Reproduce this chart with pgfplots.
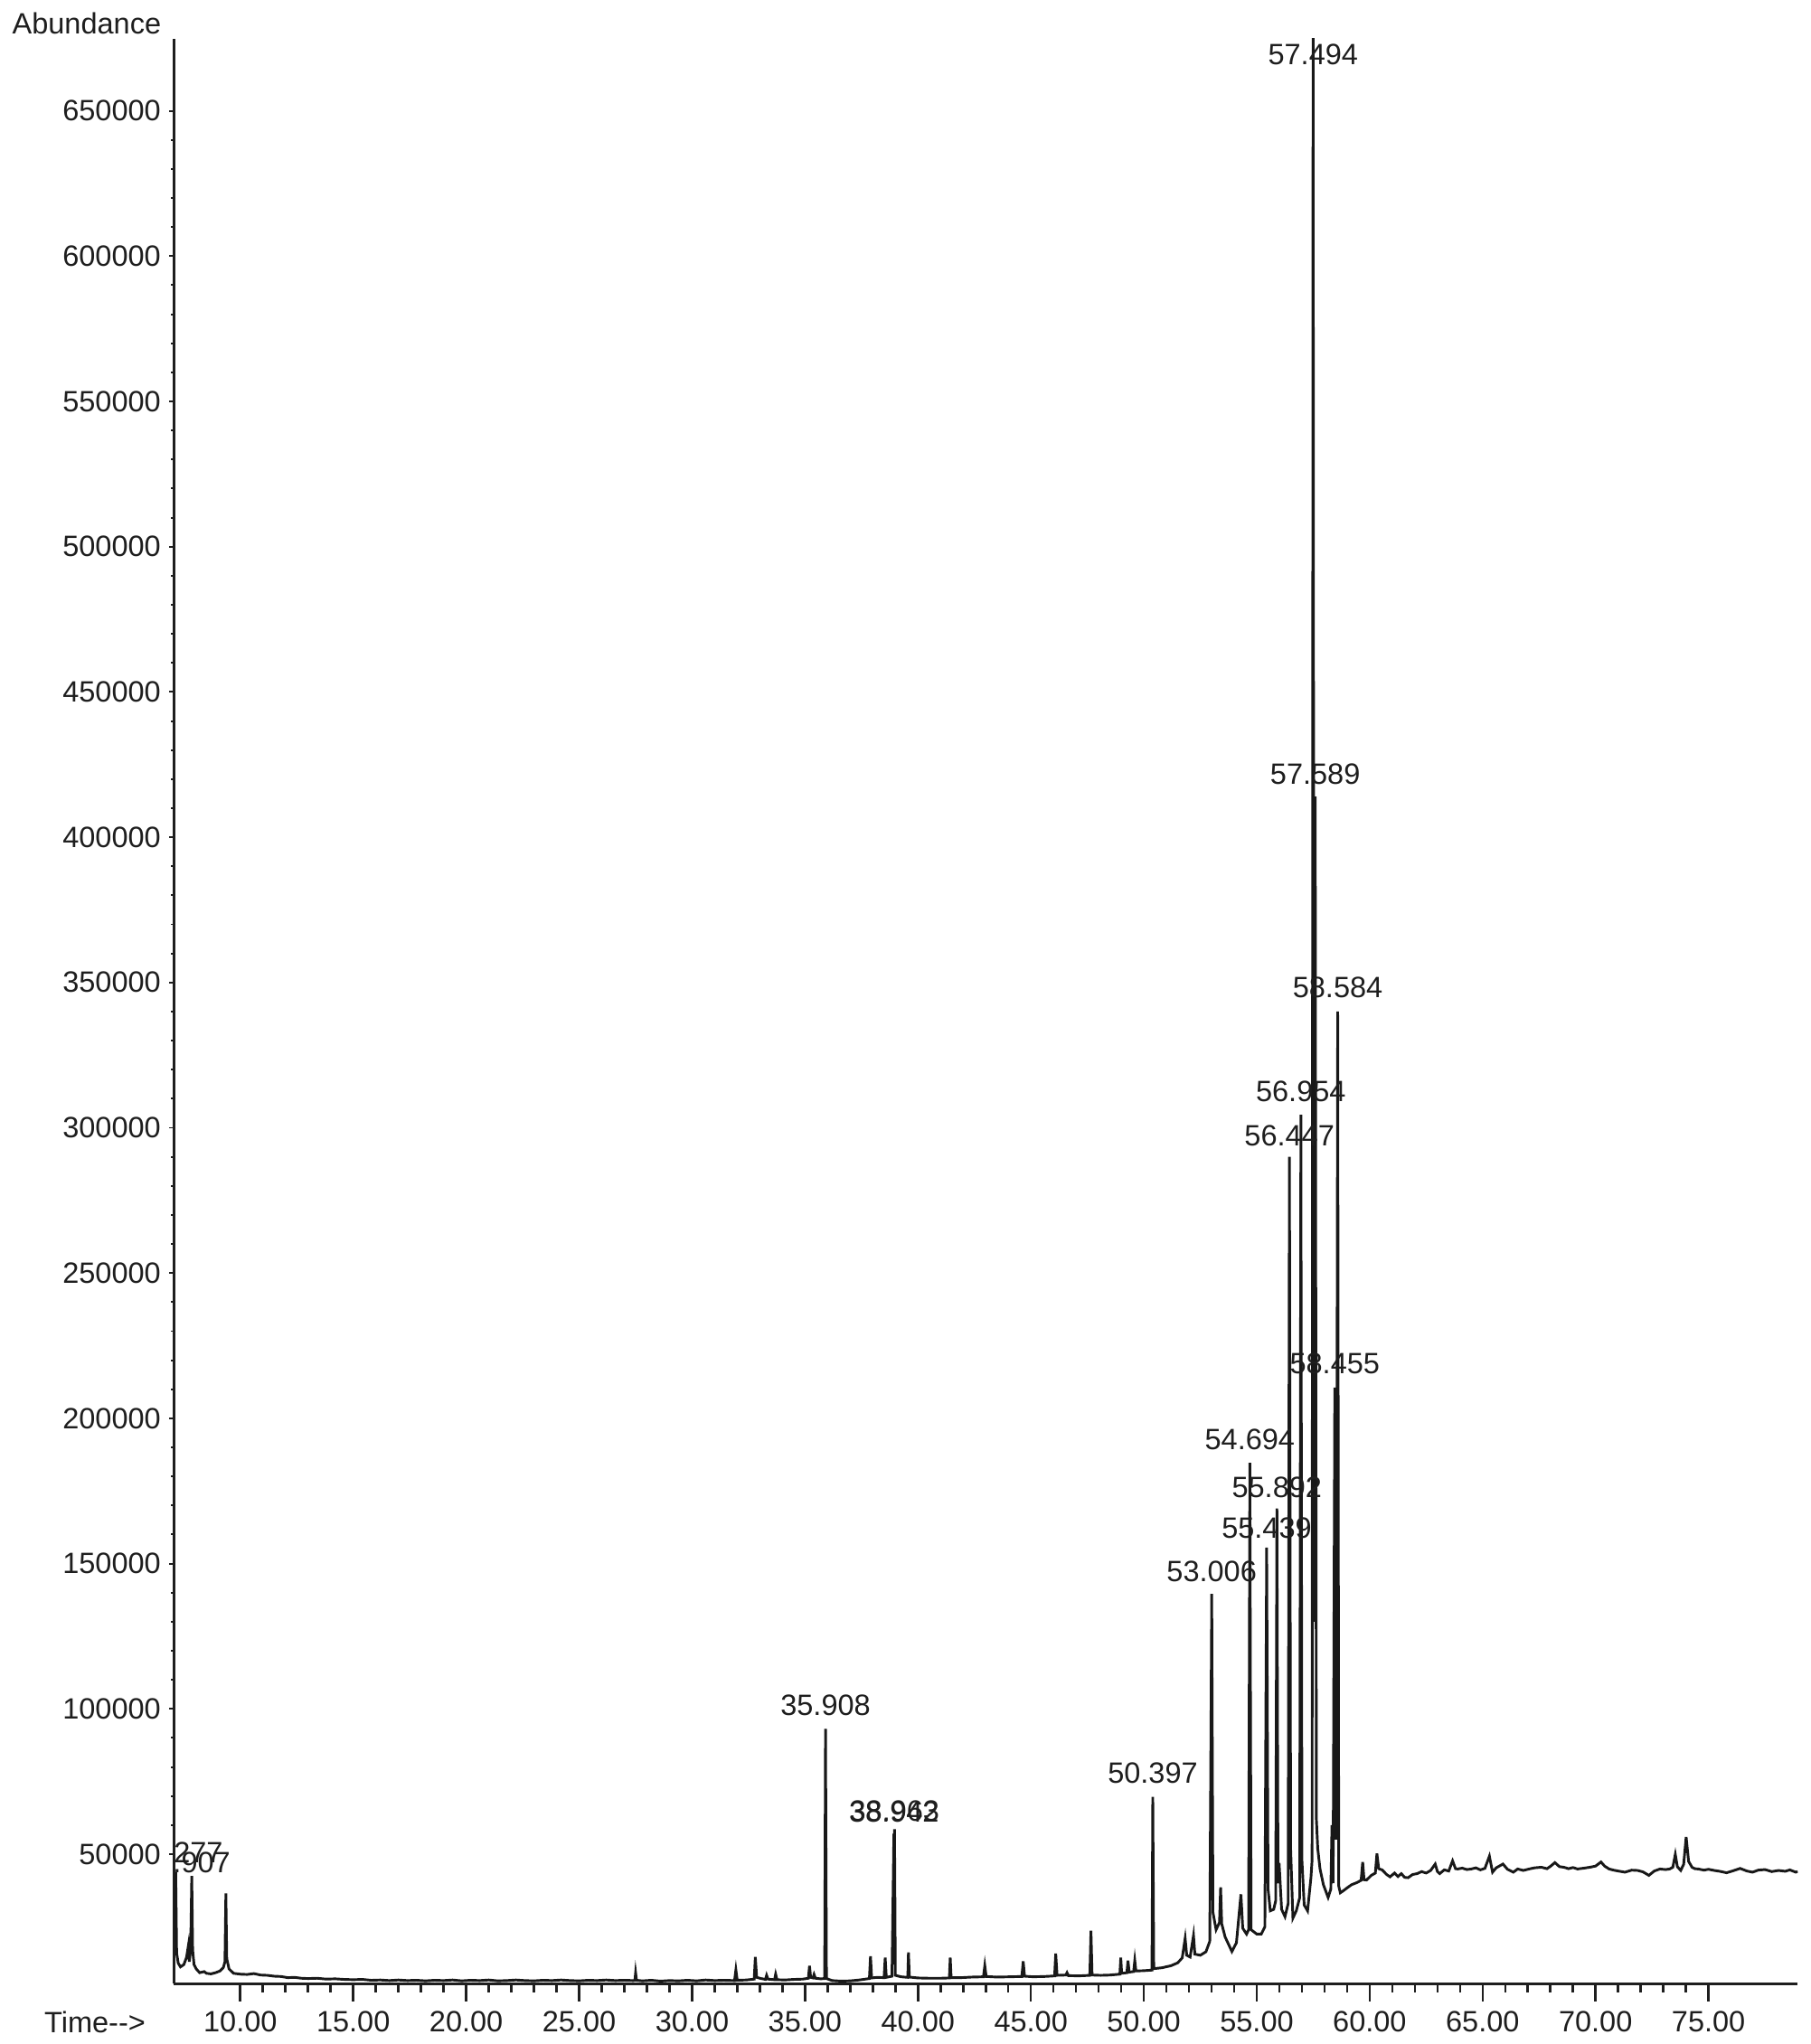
\documentclass[border=0pt]{standalone}
\usepackage{fontspec}
\setmainfont{Liberation Sans}
\usepackage{pgfplots}
\pgfplotsset{compat=1.18}
\definecolor{trace}{RGB}{24,24,24}
\definecolor{ink}{RGB}{30,30,30}

\pgfplotstableread{
t A
7.05 24000
7.10 33000
7.14 43800
7.18 16000
7.25 12500
7.35 11200
7.50 12000
7.62 14500
7.70 18500
7.74 13000
7.80 17000
7.85 42500
7.89 17000
7.95 12000
8.05 10500
8.20 9200
8.40 9600
8.50 9000
8.70 8800
8.90 9200
9.10 9800
9.25 11000
9.32 13000
9.36 36500
9.40 14000
9.50 10500
9.70 9000
10.0 8700
10.3 8600
10.6 8900
10.9 8400
11.2 8300
11.5 8000
11.8 7900
12.1 7500
12.4 7600
12.7 7300
13.0 7200
13.4 7300
13.8 7000
14.2 7100
14.6 6900
15.0 6800
15.4 6900
15.8 6600
16.2 6700
16.6 6500
17.0 6700
17.4 6500
17.8 6600
18.2 6400
18.6 6600
19.0 6500
19.4 6700
19.8 6400
20.2 6600
20.6 6500
21.0 6700
21.4 6400
21.8 6500
22.2 6700
22.6 6500
23.0 6400
23.4 6600
23.8 6500
24.2 6700
24.6 6500
25.0 6400
25.4 6600
25.8 6500
26.2 6700
26.6 6500
27.0 6600
27.4 6500
27.47 6600
27.50 9200
27.54 6600
27.8 6400
28.2 6600
28.6 6300
29.0 6500
29.4 6400
29.8 6600
30.2 6400
30.6 6700
31.0 6500
31.4 6600
31.88 6500
31.94 10200
32.00 6600
32.4 6700
32.75 7000
32.80 14600
32.86 7600
33.05 7200
33.25 6900
33.30 8300
33.36 7000
33.65 6800
33.70 8700
33.76 6800
34.1 6700
34.5 6900
34.9 7000
35.15 7300
35.20 11600
35.25 7600
35.35 7400
35.40 8600
35.46 7300
35.7 7100
35.87 7200
35.908 93100
35.95 7200
36.2 6500
36.6 6300
37.0 6400
37.4 6700
37.85 7200
37.90 14900
37.95 7400
38.2 7600
38.5 7500
38.55 14400
38.60 7600
38.85 8000
38.935 57000
38.95 12000
38.963 58600
39.00 8300
39.25 7800
39.55 7600
39.58 16200
39.62 7700
40.0 7400
40.5 7300
41.0 7300
41.39 7400
41.43 14400
41.47 7500
41.9 7500
42.4 7700
42.9 7800
42.96 11600
43.02 7900
43.5 7700
44.1 7800
44.6 7900
44.66 13100
44.72 8000
45.1 7800
45.6 7900
46.05 8100
46.10 15800
46.16 8300
46.55 8400
46.60 9200
46.66 8200
47.1 8100
47.61 8300
47.66 23700
47.71 8400
48.1 8300
48.5 8400
48.94 8700
48.98 14400
49.02 9000
49.25 9200
49.30 13400
49.35 9400
49.55 9600
49.60 13400
49.65 9800
50.0 9900
50.36 10100
50.397 69700
50.44 10600
50.8 10900
51.2 11600
51.5 12600
51.7 14300
51.83 21000
51.9 15200
52.05 14600
52.20 22000
52.26 15600
52.5 15200
52.75 16400
52.92 20000
53.006 139600
53.06 30000
53.2 24000
53.35 26500
53.40 38600
53.45 26000
53.6 21500
53.9 16500
54.1 19500
54.30 36200
54.38 24500
54.55 22500
54.64 24000
54.694 184700
54.75 24000
55.0 22500
55.2 22500
55.36 25000
55.439 155500
55.50 38000
55.60 30500
55.75 31000
55.84 34000
55.892 169000
55.94 40000
55.99 47000
56.10 31000
56.25 28500
56.39 33000
56.447 290000
56.50 52000
56.60 28000
56.75 30500
56.90 35000
56.954 304500
57.00 48000
57.10 32500
57.25 30500
57.40 42000
57.45 48000
57.494 690000
57.54 130000
57.589 414000
57.64 62000
57.70 52000
57.80 45000
57.95 39500
58.16 35100
58.28 38000
58.33 60000
58.38 40000
58.455 210600
58.52 55000
58.584 340000
58.63 39000
58.70 36700
58.85 37500
59.00 38400
59.20 39500
59.43 40200
59.62 41000
59.69 47300
59.75 41200
59.86 41100
60.07 42700
60.25 43500
60.32 50200
60.40 45000
60.55 44600
60.75 43000
60.9 42200
61.1 43500
61.25 42300
61.4 43300
61.55 42000
61.7 41900
61.9 43000
62.1 43300
62.3 44000
62.5 43500
62.7 44400
62.9 46600
63.0 44000
63.1 43300
63.3 44600
63.5 44200
63.67 47700
63.8 45000
63.9 44900
64.1 45200
64.3 44700
64.5 44900
64.7 45300
64.9 44600
65.1 45100
65.3 49300
65.44 43800
65.6 45300
65.9 46600
66.1 44800
66.36 43800
66.55 44900
66.8 44400
67.06 44900
67.3 45300
67.6 45500
67.85 45000
68.0 45800
68.2 47100
68.4 45700
68.6 45500
68.8 45000
69.0 45400
69.2 44900
69.5 45200
69.75 45500
70.0 45900
70.24 47300
70.4 45900
70.6 44900
70.8 44500
71.0 44200
71.3 43800
71.6 44500
71.86 44400
72.1 43900
72.36 42700
72.6 44200
72.85 44900
73.1 44700
73.28 44900
73.42 45500
73.53 49900
73.62 45700
73.77 44400
73.9 46500
74.01 55900
74.12 47500
74.27 45500
74.4 45000
74.55 44900
74.8 44500
75.0 44800
75.25 44400
75.5 44100
75.8 43600
76.1 44300
76.4 45100
76.7 44200
76.95 43800
77.2 44500
77.5 44700
77.8 44000
78.1 44400
78.4 44100
78.6 44600
78.86 43800
78.95 44000
}\tic

% peak labels: retention time, y of label centre, text
\pgfplotstableread{
t A lab
57.494 669300 57.494
57.589 421600 57.589
58.584 348400 58.584
56.954 312600 56.954
56.447 297300 56.447
58.455 218700 58.455
54.694 192700 54.694
55.892 176100 55.892
55.439 162200 55.439
53.006 147400 53.006
50.397 77800 50.397
35.908 101200 35.908
38.942 64400 38.942
38.963 64700 38.963
}\peaks

\begin{document}
\begin{tikzpicture}
\path[use as bounding box] (-59.1pt,-20.6pt) rectangle (556.9pt,675pt);
\begin{axis}[
  name=ax, at={(0,0)}, anchor=south west,
  scale only axis, width=552.6pt, height=661.8pt,
  xmin=7.05, xmax=78.95, ymin=5500, ymax=674800,
  axis lines=left,
  axis line style={-, ink, line width=0.9pt},
  xtick={10,15,...,75},
  xticklabels={10.00,15.00,20.00,25.00,30.00,35.00,40.00,45.00,50.00,55.00,60.00,65.00,70.00,75.00},
  minor x tick num=4,
  ytick={50000,100000,150000,200000,250000,300000,350000,400000,450000,500000,550000,600000,650000},
  yticklabels={50000,100000,150000,200000,250000,300000,350000,400000,450000,500000,550000,600000,650000},
  minor y tick num=4,
  tick align=outside,
  x tick style={/pgfplots/major tick length=6pt, /pgfplots/minor tick length=3pt, ink, line width=0.8pt},
  y tick style={/pgfplots/major tick length=1.5pt, /pgfplots/minor tick length=0.8pt, ink, line width=0.6pt},
  scaled y ticks=false,
  tick label style={font=\fontsize{10}{12}\selectfont, text=ink},
  x tick label style={anchor=base, yshift=-12.1pt},
  y tick label style={anchor=east, xshift=3.4pt},
  clip=true,
]
\addplot[trace, line width=0.9pt, mark=none] table[x=t, y=A] {\tic};
\addplot[only marks, mark=none, nodes near coords={\pgfplotspointmeta}, point meta=explicit symbolic,
  every node near coord/.style={anchor=center, font=\fontsize{10}{12}\selectfont, text=ink}]
  table[x=t, y=A, meta=lab] {\peaks};
\coordinate (la) at (axis cs:7.60,50500);
\coordinate (lb) at (axis cs:7.93,47000);
\end{axis}
\begin{scope}
  \clip (ax.south west) rectangle (ax.north east);
  \node[font=\fontsize{10}{12}\selectfont, text=ink] at (la) {7.277};
  \node[font=\fontsize{10}{12}\selectfont, text=ink] at (lb) {7.907};
\end{scope}
\node[font=\fontsize{10}{12}\selectfont, text=ink] at (-29.6pt,667pt) {Abundance};
\node[font=\fontsize{10}{12}\selectfont, text=ink] at (-26.8pt,-13.2pt) {Time-{}-{}>};
\end{tikzpicture}
\end{document}
